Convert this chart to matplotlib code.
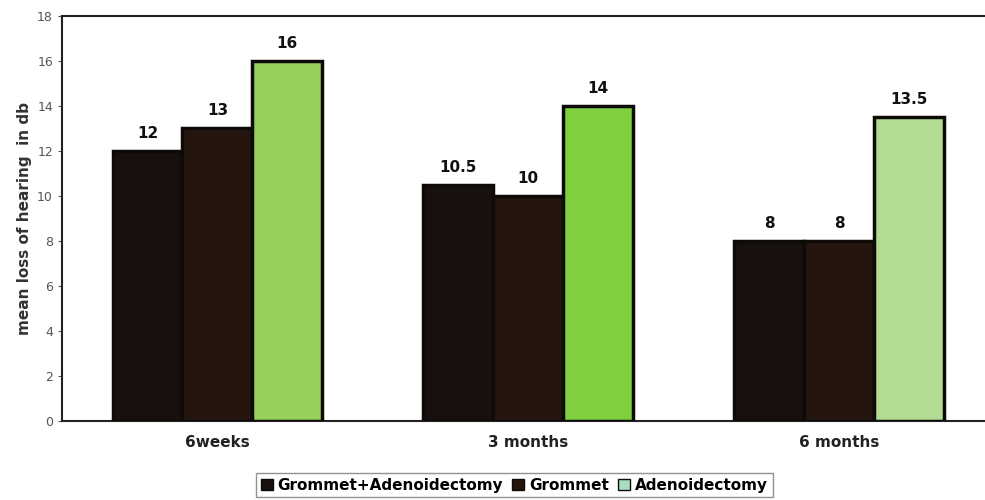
import numpy as np
import matplotlib.pyplot as plt

periods = ['6weeks', '3 months', '6 months']
grommet_adeno = [12, 10.5, 8]
grommet = [13, 10, 8]
adeno = [16, 14, 13.5]
value_labels = [['12', '10.5', '8'], ['13', '10', '8'], ['16', '14', '13.5']]

series = [
    ('Grommet+Adenoidectomy', grommet_adeno, '#17100e'),
    ('Grommet', grommet, '#24160f'),
    ('Adenoidectomy', adeno, '#95d05a'),
]

fig = plt.figure(figsize=(9.85, 5.0), dpi=100)
ax = fig.add_axes([0.063, 0.158, 0.937, 0.81])

x = np.arange(len(periods))
width = 0.225
handles = []
for i, (name, vals, col) in enumerate(series):
    pos = x + (i - 1) * width
    bars = ax.bar(pos, vals, width, color=col, edgecolor='#0d0a08', linewidth=2.5,
                  label=name, zorder=3)
    if i == 2:
        # last group is a paler green
        bars[2].set_facecolor('#b2dc94')
        bars[1].set_facecolor('#7fcf3e')
    handles.append(bars)
    for b, v, txt in zip(bars, vals, value_labels[i]):
        ax.text(b.get_x() + b.get_width() / 2, v + 0.45, txt, ha='center', va='bottom',
                fontsize=11, fontweight='bold', color='#111111')

ax.set_xlim(-0.5, 2.47)
ax.set_ylim(0, 18)
ax.set_yticks(range(0, 19, 2))
ax.set_xticks(x)
ax.set_xticklabels(periods, fontsize=11, fontweight='bold', color='#222222')
ax.tick_params(axis='y', labelsize=9, colors='#555555', length=3)
ax.tick_params(axis='x', length=0, pad=10)
ax.set_ylabel('mean loss of hearing  in db', fontsize=11, fontweight='bold', color='#333333')
for s in ax.spines.values():
    s.set_linewidth(1.5)
    s.set_color('#222222')
ax.spines['right'].set_visible(False)

leg = ax.legend(handles=handles, loc='upper center', bbox_to_anchor=(0.49, -0.11), ncol=3,
                frameon=True, fancybox=False, edgecolor='#777777', handlelength=0.8,
                handleheight=0.8, handletextpad=0.3, columnspacing=0.6,
                borderpad=0.3, prop={'weight': 'bold', 'size': 11})
for h in leg.legend_handles:
    h.set_linewidth(1)
leg.legend_handles[2].set_facecolor('#a8dcc0')

fig.savefig('out.png', dpi=100)
